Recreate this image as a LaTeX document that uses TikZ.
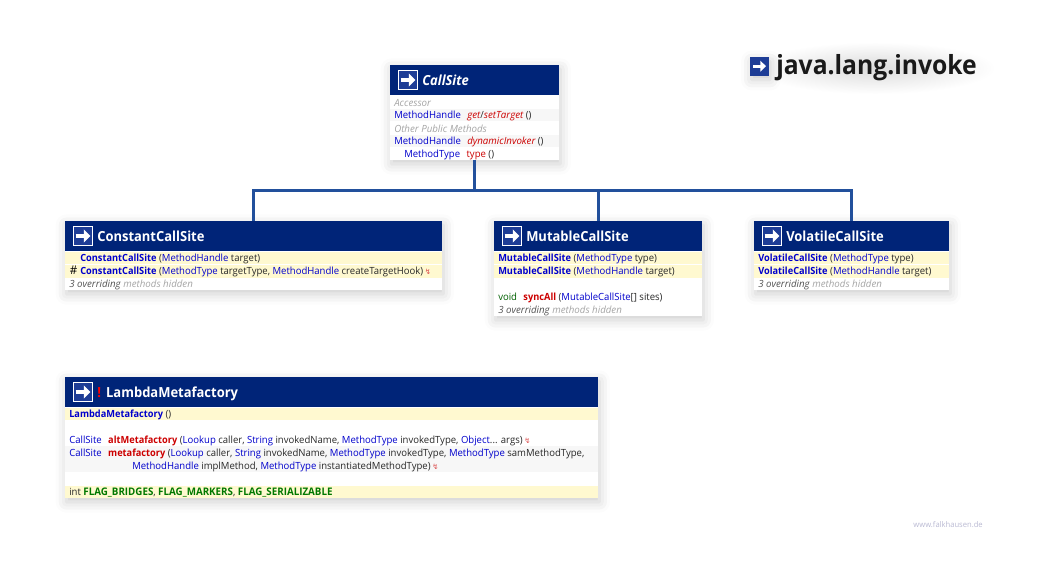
\documentclass[tikz,border=0pt]{standalone}
\usepackage{fontspec}
\setmainfont[FakeStretch=0.967, BoldFeatures={FakeStretch=0.935}, ItalicFeatures={FakeStretch=0.985}, BoldItalicFeatures={FakeStretch=0.935}]{Open Sans}
\newfontfamily\symfont{DejaVu Sans}
\usetikzlibrary{arrows.meta,positioning,calc,shadows.blur,fadings}
\definecolor{headblue}{RGB}{0, 36, 120}
\definecolor{iconblue}{RGB}{30, 61, 150}
\definecolor{linkblue}{RGB}{34, 80, 156}
\definecolor{creamrow}{RGB}{255, 249, 208}
\definecolor{greyrow}{RGB}{247, 247, 247}
\definecolor{typeblue}{RGB}{0, 0, 204}
\definecolor{methred}{RGB}{204, 0, 0}
\definecolor{fieldgreen}{RGB}{0, 120, 0}
\definecolor{bodytext}{RGB}{40, 40, 40}
\definecolor{hiddengrey}{RGB}{165, 165, 165}
\definecolor{webgrey}{RGB}{185, 185, 210}
\newlength{\pxu}
\setlength{\pxu}{0.75pt}
\newcommand{\typ}[1]{\textcolor{typeblue}{#1}}
\newcommand{\ctor}[1]{\textcolor{typeblue}{\bfseries #1}}
\newcommand{\meth}[1]{\textcolor{methred}{\bfseries #1}}
\newcommand{\imeth}[1]{\textcolor{methred}{\itshape #1}}
\newcommand{\fld}[1]{\textcolor{fieldgreen}{\fontsize{7.85}{9}\selectfont\bfseries #1}}
\newcommand{\flash}{\,\textcolor{methred!70}{\symfont\fontsize{5.5}{6}\selectfont ↯}}
\newcommand{\hiddennote}{\textit{\textcolor{bodytext!80}{3 overriding} \textcolor{hiddengrey}{methods hidden}}}
\tikzfading[name=titlehalo, inner color=transparent!86, outer color=transparent!100]
\tikzset{
    softshadow/.style={blur shadow={shadow xshift=1pt, shadow yshift=-3pt, shadow blur radius=8pt, shadow opacity=20}},
    classcard/.style={anchor=north west, fill=white, inner sep=0pt, outer sep=0pt, softshadow},
    headbar/.style={anchor=north west, fill=headblue, inner sep=0pt, outer sep=0pt, minimum height=30\pxu},
    creamband/.style={anchor=north west, fill=creamrow, inner sep=0pt, outer sep=0pt, minimum height=12.5\pxu},
    greyband/.style={anchor=north west, fill=greyrow, inner sep=0pt, outer sep=0pt},
    headtext/.style={anchor=base west, inner sep=0pt, text=white, font=\fontsize{10.4}{12}\selectfont\bfseries},
    rowtext/.style={anchor=base west, inner sep=0pt, text=bodytext, font=\fontsize{7.4}{9}\selectfont},
    navicon/.pic={
        \fill[white] (-10,-10) rectangle (10,10);
        \fill[iconblue] (-8.6,-8.6) rectangle (8.6,8.6);
        \draw[white, line width=2.4pt, -{Triangle[length=5pt, width=9.6pt]}] (-7.5,0) -- (7.5,0);
    },
    inherit/.style={draw=linkblue, line width=3\pxu}
}
\begin{document}
\begin{tikzpicture}[x=0.75pt, y=-0.75pt]
    \useasboundingbox (0,0) rectangle (1040,571);
    % Package title
    \fill[black, path fading=titlehalo, fit fading=true] (755,42) rectangle (995,94);
    \node[anchor=base west, inner sep=0pt, text=black!90, font=\fontsize{19.8}{24}\selectfont\bfseries] (pkgtitle) at (776,74) {java.lang.invoke};
    \node[anchor=north west, fill=iconblue, inner sep=0pt, minimum size=18.5\pxu, softshadow] (pkgicon) at (750,57) {};
    \draw[white, line width=2pt, -{Triangle[length=4.2pt, width=8pt]}] (753,66.2) -- (766,66.2);

    % CallSite card
    \node[classcard, minimum width=169\pxu, minimum height=95\pxu] (callsite) at (390,65) {};
    \node[headbar, minimum width=169\pxu] (callsitehead) at (390,65) {};
    \pic at (408,80) {navicon};
    \node[headtext, font=\fontsize{10.4}{12}\selectfont\bfseries\itshape] (callsitename) at (422,85) {CallSite};
    \node[greyband, minimum width=169\pxu, minimum height=12.5\pxu] (callsiteband1) at (390,108.5) {};
    \node[greyband, minimum width=169\pxu, minimum height=12.5\pxu] (callsiteband2) at (390,134.5) {};
    \node[rowtext, text=hiddengrey] (accessorlabel) at (394,106) {\itshape Accessor};
    \node[rowtext] (gettarget) at (394,118.5) {\typ{MethodHandle}\hspace{0.4em} \imeth{get}/\imeth{setTarget} ()};
    \node[rowtext, text=hiddengrey] (otherlabel) at (394,132) {\itshape Other Public Methods};
    \node[rowtext] (dyninvoker) at (394,144.5) {\typ{MethodHandle}\hspace{0.4em} \imeth{dynamicInvoker} ()};
    \node[rowtext] (typemeth) at (404,157.5) {\typ{MethodType}\hspace{0.4em} \textcolor{methred}{type} ()};

    % ConstantCallSite card
    \node[classcard, minimum width=377\pxu, minimum height=69\pxu] (constant) at (65,221) {};
    \node[headbar, minimum width=377\pxu] (constanthead) at (65,221) {};
    \pic at (83,236) {navicon};
    \node[headtext] (constantname) at (97,241) {ConstantCallSite};
    \node[creamband, minimum width=377\pxu] (constantband1) at (65,251.5) {};
    \node[creamband, minimum width=377\pxu] (constantband2) at (65,265) {};
    \node[rowtext] (constantctor1) at (80,261) {\ctor{ConstantCallSite} (\typ{MethodHandle} target)};
    \node[rowtext, font=\fontsize{9}{9}\selectfont, text=black] (constanthash) at (69.5,274.8) {\#};
    \node[rowtext] (constantctor2) at (80,274.5) {\ctor{ConstantCallSite} (\typ{MethodType} targetType, \typ{MethodHandle} createTargetHook)\flash};
    \node[rowtext] (constanthidden) at (69,287.5) {\hiddennote};

    % MutableCallSite card
    \node[classcard, minimum width=208\pxu, minimum height=95\pxu] (mutable) at (494,221) {};
    \node[headbar, minimum width=208\pxu] (mutablehead) at (494,221) {};
    \pic at (512,236) {navicon};
    \node[headtext] (mutablename) at (526,241) {MutableCallSite};
    \node[creamband, minimum width=208\pxu] (mutableband1) at (494,251.5) {};
    \node[creamband, minimum width=208\pxu] (mutableband2) at (494,265) {};
    \node[rowtext] (mutablector1) at (498,261) {\ctor{MutableCallSite} (\typ{MethodType} type)};
    \node[rowtext] (mutablector2) at (498,274.5) {\ctor{MutableCallSite} (\typ{MethodHandle} target)};
    \node[rowtext] (syncall) at (498,300.5) {\textcolor{fieldgreen!80!black}{void}\hspace{0.4em} \meth{syncAll} (\typ{MutableCallSite}[] sites)};
    \node[rowtext] (mutablehidden) at (498,313.5) {\hiddennote};

    % VolatileCallSite card
    \node[classcard, minimum width=195\pxu, minimum height=69\pxu] (volatile) at (754,221) {};
    \node[headbar, minimum width=195\pxu] (volatilehead) at (754,221) {};
    \pic at (772,236) {navicon};
    \node[headtext] (volatilename) at (786,241) {VolatileCallSite};
    \node[creamband, minimum width=195\pxu] (volatileband1) at (754,251.5) {};
    \node[creamband, minimum width=195\pxu] (volatileband2) at (754,265) {};
    \node[rowtext] (volatilector1) at (758,261) {\ctor{VolatileCallSite} (\typ{MethodType} type)};
    \node[rowtext] (volatilector2) at (758,274.5) {\ctor{VolatileCallSite} (\typ{MethodHandle} target)};
    \node[rowtext] (volatilehidden) at (758,287.5) {\hiddennote};

    % LambdaMetafactory card
    \node[classcard, minimum width=533\pxu, minimum height=121\pxu] (lambda) at (65,377) {};
    \node[headbar, minimum width=533\pxu] (lambdahead) at (65,377) {};
    \pic at (83,392) {navicon};
    \node[headtext] (lambdaname) at (97,397) {\textcolor{red}{!}\hspace{0.05em} LambdaMetafactory};
    \node[creamband, minimum width=533\pxu] (lambdaband1) at (65,407.5) {};
    \node[greyband, minimum width=533\pxu, minimum height=26\pxu] (lambdaband2) at (65,446) {};
    \node[creamband, minimum width=533\pxu] (lambdaband3) at (65,485.5) {};
    \node[rowtext] (lambdactor) at (69,417) {\ctor{LambdaMetafactory} ()};
    \node[rowtext] (altmeta) at (69,443) {\typ{CallSite}\hspace{0.4em} \meth{altMetafactory} (\typ{Lookup} caller, \typ{String} invokedName, \typ{MethodType} invokedType, \typ{Object}... args)\flash};
    \node[rowtext] (meta) at (69,456) {\typ{CallSite}\hspace{0.4em} \meth{metafactory} (\typ{Lookup} caller, \typ{String} invokedName, \typ{MethodType} invokedType, \typ{MethodType} samMethodType,};
    \node[rowtext] (metacont) at (132,469) {\typ{MethodHandle} implMethod, \typ{MethodType} instantiatedMethodType)\flash};
    \node[rowtext] (flags) at (69,495.5) {int \fld{FLAG\_BRIDGES}, \fld{FLAG\_MARKERS}, \fld{FLAG\_SERIALIZABLE}};

    % Inheritance lines
    \coordinate (busleft) at ($(callsite.south)+(0,30)$);
    \draw[inherit] (callsite.south) -- (busleft) -| (constant.north);
    \draw[inherit] (busleft) -| (mutable.north);
    \draw[inherit] (busleft) -| (volatile.north);

    % Site note
    \node[anchor=base east, inner sep=0pt, text=webgrey, font=\fontsize{5.9}{7}\selectfont] (sitenote) at (983,527.5) {www.falkhausen.de};
\end{tikzpicture}
\end{document}
